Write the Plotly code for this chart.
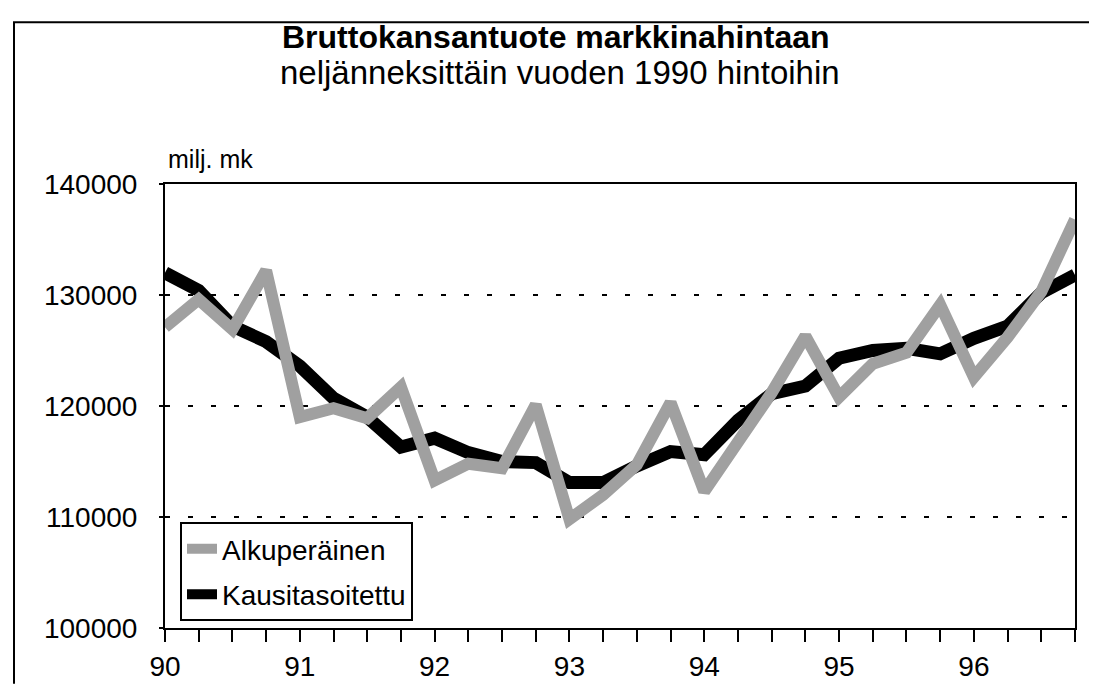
import plotly.graph_objects as go

quarters = ["90Q1", "90Q2", "90Q3", "90Q4", "91Q1", "91Q2", "91Q3", "91Q4",
            "92Q1", "92Q2", "92Q3", "92Q4", "93Q1", "93Q2", "93Q3", "93Q4",
            "94Q1", "94Q2", "94Q3", "94Q4", "95Q1", "95Q2", "95Q3", "95Q4",
            "96Q1", "96Q2", "96Q3", "96Q4"]
tick_text = ["90", "", "", "", "91", "", "", "", "92", "", "", "", "93", "", "", "",
             "94", "", "", "", "95", "", "", "", "96", "", "", ""]

alkuperainen = [127100, 129600, 126900, 132200, 119000, 119800, 118900, 121700,
                113300, 114800, 114400, 120100, 109800, 112000, 114700, 120300,
                112300, 116800, 121200, 126300, 120800, 123800, 124800, 129100,
                122600, 126200, 130300, 136800]
kausitasoitettu = [132000, 130400, 127200, 125800, 123600, 120700, 119000, 116300,
                   117100, 115800, 115000, 114900, 113100, 113100, 114600, 115900,
                   115600, 118700, 121100, 121800, 124300, 125000, 125200, 124700,
                   126100, 127200, 130200, 131800]

y_ticks = [100000, 110000, 120000, 130000, 140000]

FONT = "Liberation Sans, Arial, Helvetica, sans-serif"
W, H = 1097, 686
L, R, T, B = 157, 30, 176, 57
PW, PH = W - L - R, H - T - B


def px_x(px):
    return (px - L) / PW


def px_y(py):
    return (H - B - py) / PH


fig = go.Figure()
fig.add_trace(go.Scatter(
    x=quarters, y=kausitasoitettu, name="Kausitasoitettu", mode="lines",
    line=dict(color="#000000", width=13), legendrank=2, legendgroup="k"))
fig.add_trace(go.Scatter(
    x=quarters, y=alkuperainen, name="Alkuperäinen", mode="lines",
    line=dict(color="#a0a0a0", width=12), legendrank=1, legendgroup="a"))

fig.update_layout(
    width=W, height=H, autosize=False,
    margin=dict(l=L, r=R, t=T, b=B, pad=0),
    paper_bgcolor="white", plot_bgcolor="white",
    font=dict(family=FONT, size=27, color="black"),
    showlegend=True,
    legend=dict(
        x=px_x(172), y=px_y(521), xanchor="left", yanchor="top",
        bgcolor="white", bordercolor="black", borderwidth=2,
        font=dict(family=FONT, size=28, color="black"),
        tracegroupgap=6, itemwidth=30,
    ),
    xaxis=dict(
        type="category", range=[0, len(quarters) - 1],
        tickmode="array", tickvals=quarters, ticktext=tick_text,
        ticks="outside", ticklen=12, tickwidth=1.5, tickcolor="black",
        showline=True, linewidth=2, linecolor="black", mirror=True,
        showgrid=False, zeroline=False,
        tickfont=dict(family=FONT, size=28), ticklabelstandoff=0,
    ),
    yaxis=dict(
        range=[100000, 140000], tickmode="array", tickvals=y_ticks,
        ticktext=[str(v) for v in y_ticks],
        ticks="outside", ticklen=4, tickwidth=1.5, tickcolor="black",
        showline=True, linewidth=2, linecolor="black", mirror=True,
        showgrid=True, gridcolor="black", gridwidth=1.5, griddash="5px,18px",
        zeroline=False,
        tickfont=dict(family=FONT, size=28), ticklabelstandoff=16,
    ),
    annotations=[
        dict(text="<b>Bruttokansantuote markkinahintaan</b>", xref="paper", yref="paper",
             x=px_x(548), y=px_y(26), xanchor="center", yanchor="middle", showarrow=False,
             font=dict(family=FONT, size=32, color="black")),
        dict(text="neljänneksittäin vuoden 1990 hintoihin", xref="paper", yref="paper",
             x=px_x(552), y=px_y(62), xanchor="center", yanchor="middle", showarrow=False,
             font=dict(family=FONT, size=33, color="black")),
        dict(text="milj. mk", xref="paper", yref="paper",
             x=px_x(158), y=px_y(150), xanchor="left", yanchor="middle", showarrow=False,
             font=dict(family=FONT, size=25, color="black")),
    ],
    shapes=[
        dict(type="line", xref="paper", yref="paper",
             x0=px_x(5), x1=px_x(1097), y0=px_y(11), y1=px_y(11),
             line=dict(color="black", width=2)),
        dict(type="line", xref="paper", yref="paper",
             x0=px_x(6), x1=px_x(6), y0=px_y(11), y1=px_y(686),
             line=dict(color="black", width=2)),
    ],
)

fig.write_html("out.html")
